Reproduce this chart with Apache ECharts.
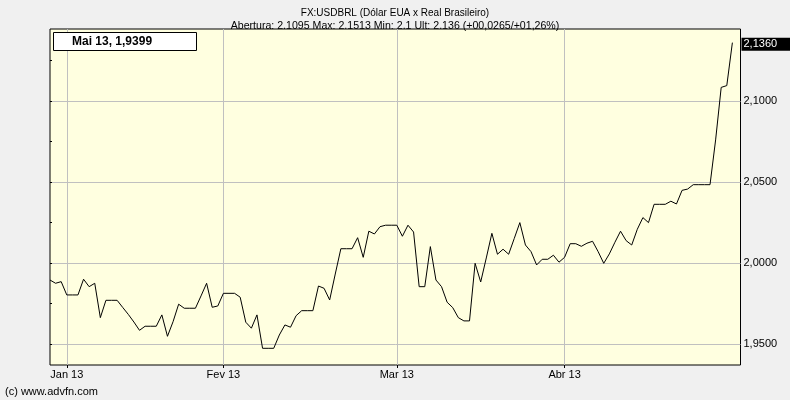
<!DOCTYPE html>
<html>
<head>
<meta charset="utf-8">
<script src="https://cdn.jsdelivr.net/npm/echarts@6/dist/echarts.min.js"></script>
<style>
html,body{margin:0;padding:0;background:#F0F0F0;}
#chart{width:790px;height:400px;}
</style>
</head>
<body>
<div id="chart"></div>
<script>
// Daily USD/BRL closes (index = trading-day position on the x axis)
const usdbrl = [
  1.9896, 1.9876, 1.9886, 1.9804, 1.9804, 1.9804, 1.9901, 1.9855, 1.9876, 1.9664,
  1.9771, 1.9771, 1.9771, 1.9727, 1.9684, 1.9637, 1.9586, 1.9611, 1.9611, 1.9611,
  1.9681, 1.9549, 1.9639, 1.9747, 1.9722, 1.9722, 1.9722, 1.9798, 1.9876, 1.9728,
  1.9736, 1.9814, 1.9814, 1.9814, 1.9790, 1.9636, 1.9599, 1.9681, 1.9475, 1.9475,
  1.9475, 1.9557, 1.9619, 1.9605, 1.9676, 1.9707, 1.9707, 1.9707, 1.9859, 1.9845,
  1.9773, 1.9933, 2.0089, 2.0089, 2.0089, 2.0157, 2.0036, 2.0197, 2.0180, 2.0225,
  2.0234, 2.0234, 2.0234, 2.0166, 2.0234, 2.0192, 1.9855, 1.9855, 2.0102, 1.9896,
  1.9855, 1.9759, 1.9726, 1.9664, 1.9644, 1.9644, 1.9999, 1.9884, 2.0032, 2.0184,
  2.0055, 2.0086, 2.0055, 2.0152, 2.0250, 2.0112, 2.0071, 1.9989, 2.0024, 2.0024,
  2.0049, 2.0006, 2.0036, 2.0120, 2.0120, 2.0104, 2.0123, 2.0135, 2.0071, 1.9999,
  2.0057, 2.0129, 2.0197, 2.0139, 2.0112, 2.0209, 2.0281, 2.0250, 2.0363, 2.0363,
  2.0363, 2.0382, 2.0365, 2.0449, 2.0457, 2.0484, 2.0484, 2.0484, 2.0484, 2.0760,
  2.1084, 2.1095, 2.1360
];
const monthTicks = [3, 31, 62, 92];
const monthLabels = ['Jan 13', 'Fev 13', 'Mar 13', 'Abr 13'];
const priceLabels = [1.95, 2.00, 2.05, 2.10];
const priceMinorTicks = [1.95, 1.975, 2.00, 2.025, 2.05, 2.075, 2.10, 2.125];
const lastPrice = 2.136;
const titleText = 'FX:USDBRL (Dólar EUA x Real Brasileiro)';
const subText = 'Abertura: 2.1095 Max: 2.1513 Min: 2.1 Ult: 2.136 (+00,0265/+01,26%)';
const readoutText = 'Mai 13, 1,9399';
const creditText = '(c) www.advfn.com';

const FONT = '"Liberation Sans", Arial, sans-serif';
const yMin = 1.9372, yMax = 2.1444;
const fmt = v => v.toFixed(4).replace('.', ',');

const chart = echarts.init(document.getElementById('chart'), null, {renderer: 'canvas'});
chart.setOption({
  animation: false,
  backgroundColor: '#F0F0F0',
  textStyle: {fontFamily: FONT},
  title: [
    {text: titleText, left: 'center', top: 3,
     textStyle: {fontSize: 10, fontWeight: 'normal', color: '#000', fontFamily: FONT}},
    {text: subText, left: 'center', top: 16,
     textStyle: {fontSize: 10.6, fontWeight: 'normal', color: '#000', fontFamily: FONT}}
  ],
  grid: {left: 50, top: 29, right: 49.5, bottom: 35, show: true,
         backgroundColor: '#FFFFE0', borderColor: '#000', borderWidth: 1, containLabel: false},
  xAxis: {
    type: 'value', min: 0, max: 123.45,
    axisLine: {show: false},
    axisTick: {show: true, customValues: monthTicks, length: 3, lineStyle: {color: '#000'}},
    axisLabel: {customValues: monthTicks, margin: 4, fontSize: 11, color: '#000', fontFamily: FONT,
      formatter: v => monthLabels[monthTicks.indexOf(Math.round(v))] || ''},
    splitLine: {show: true, lineStyle: {color: '#C0C0C0', width: 1}}
  },
  yAxis: [
    {type: 'value', position: 'right', min: yMin, max: yMax,
     axisLine: {show: false},
     axisTick: {show: true, customValues: priceMinorTicks, length: 2, lineStyle: {color: '#000'}},
     axisLabel: {customValues: priceLabels, margin: 3, fontSize: 11, color: '#000', fontFamily: FONT,
                 formatter: v => fmt(v)},
     splitLine: {show: false}},
    {type: 'value', position: 'right', min: yMin, max: yMax,
     axisLine: {show: false},
     axisTick: {show: false, customValues: priceLabels},
     axisLabel: {show: false},
     splitLine: {show: true, lineStyle: {color: '#C0C0C0', width: 1}}},
    {type: 'value', position: 'left', min: yMin, max: yMax,
     axisLine: {show: false},
     axisTick: {show: true, inside: true, customValues: priceMinorTicks, length: 2, lineStyle: {color: '#000'}},
     axisLabel: {show: false},
     splitLine: {show: false}}
  ],
  series: [{
    type: 'line',
    yAxisIndex: 0,
    data: usdbrl.map((v, i) => [i, v]),
    symbol: 'none',
    lineStyle: {color: '#000', width: 1},
    z: 5,
    markLine: {
      silent: true, symbol: 'none',
      lineStyle: {color: 'rgba(0,0,0,0)', width: 0, type: 'solid'},
      label: {show: true, position: 'end', distance: 1, formatter: () => fmt(lastPrice),
              color: '#fff', backgroundColor: '#000', fontSize: 11, fontFamily: FONT,
              align: 'left', verticalAlign: 'middle', offset: [0, 8],
              padding: [1, 26, 1, 2]},
      emphasis: {disabled: true},
      data: [{yAxis: lastPrice}]
    }
  }],
  graphic: [
    {type: 'rect', shape: {x: 53.5, y: 32.5, width: 143, height: 18},
     style: {fill: '#fff', stroke: '#000', lineWidth: 1}, z: 100},
    {type: 'text', x: 72, y: 41.5, z: 101,
     style: {text: readoutText, fill: '#000', font: 'bold 12px ' + FONT, textVerticalAlign: 'middle'}},
    {type: 'text', x: 5, y: 392, z: 101,
     style: {text: creditText, fill: '#000', font: '11px ' + FONT, textVerticalAlign: 'middle'}}
  ]
});
</script>
</body>
</html>
